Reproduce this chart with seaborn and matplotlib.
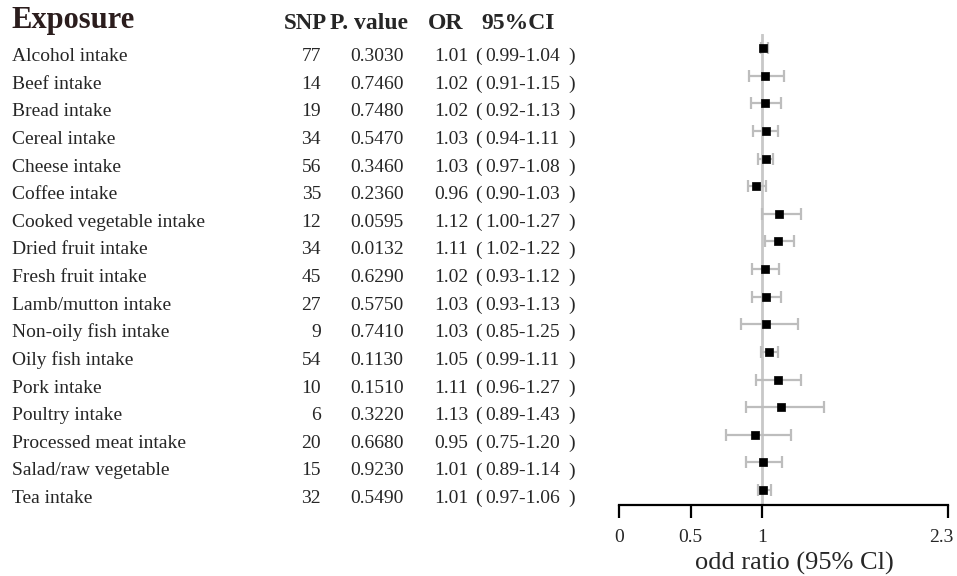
import numpy as np
import pandas as pd
import seaborn as sns
from matplotlib import pyplot as plt
from matplotlib import transforms

exposures = ['Alcohol intake', 'Beef intake', 'Bread intake', 'Cereal intake', 'Cheese intake',
	'Coffee intake', 'Cooked vegetable intake', 'Dried fruit intake', 'Fresh fruit intake',
	'Lamb/mutton intake', 'Non-oily fish intake', 'Oily fish intake', 'Pork intake',
	'Poultry intake', 'Processed meat intake', 'Salad/raw vegetable', 'Tea intake']
snp = [77, 14, 19, 34, 56, 35, 12, 34, 45, 27, 9, 54, 10, 6, 20, 15, 32]
pval = ['0.3030', '0.7460', '0.7480', '0.5470', '0.3460', '0.2360', '0.0595', '0.0132', '0.6290',
	'0.5750', '0.7410', '0.1130', '0.1510', '0.3220', '0.6680', '0.9230', '0.5490']
odds = [1.01, 1.02, 1.02, 1.03, 1.03, 0.96, 1.12, 1.11, 1.02, 1.03, 1.03, 1.05, 1.11, 1.13, 0.95, 1.01, 1.01]
ci_low = [0.99, 0.91, 0.92, 0.94, 0.97, 0.90, 1.00, 1.02, 0.93, 0.93, 0.85, 0.99, 0.96, 0.89, 0.75, 0.89, 0.97]
ci_high = [1.04, 1.15, 1.13, 1.11, 1.08, 1.03, 1.27, 1.22, 1.12, 1.13, 1.25, 1.11, 1.27, 1.43, 1.20, 1.14, 1.06]
xticks = [0, 0.5, 1, 2.3]
xticklabels = ['0', '0.5', '1', '2.3']

df = pd.DataFrame({'exposure': exposures, 'snp': snp, 'p': pval, 'OR': odds, 'lo': ci_low, 'hi': ci_high})
df['row'] = np.arange(len(df))

sns.set_style('white')
plt.rcParams['font.family'] = ['Liberation Serif', 'Noto Sans CJK SC']

W, H = 957, 576
fig = plt.figure(figsize=(W/100, H/100), dpi=100)
ax = fig.add_axes([619/W, 1-505/H, (948-619)/W, (505-34)/H])

# forest part
ax.axvline(1, color='#c8c8c8', lw=2, zorder=1)
ax.errorbar(df['OR'], df['row'], xerr=[df['OR']-df['lo'], df['hi']-df['OR']], fmt='none',
	ecolor='#bdbdbd', elinewidth=1.6, capsize=4.5, capthick=1.6, zorder=2)
sns.scatterplot(data=df, x='OR', y='row', marker='s', color='black', s=40, edgecolor='black', ax=ax, zorder=3)

ax.set_xlim(0, 2.3)
ax.set_ylim(len(df)-1+0.54, -0.51)
ax.set_xticks(xticks)
ax.set_xticklabels(xticklabels)
ax.set_yticks([])
ax.set_ylabel('')
ax.set_xlabel('')
for s in ['top', 'right', 'left']:
	ax.spines[s].set_visible(False)
ax.spines['bottom'].set_linewidth(1.6)
ax.spines['bottom'].set_color('black')
ax.tick_params(axis='x', direction='out', length=9, width=1.6, color='black', bottom=True,
	labelsize=14, pad=8)
# last label sits against the right edge, nudge it left a bit
last = ax.get_xticklabels()[-1]
last.set_transform(last.get_transform() + transforms.ScaledTranslation(-7/100, 0, fig.dpi_scale_trans))
fig.text(794/W, 1-570/H, 'odd ratio (95% Cl)', ha='center', va='baseline', fontsize=19)

# table part
trans = transforms.blended_transform_factory(fig.transFigure, ax.transData)
fs = 14
off = 0.47
for _, r in df.iterrows():
	y = r['row'] + off
	ax.text(12/W, y, r['exposure'], transform=trans, ha='left', va='baseline', fontsize=fs)
	ax.text(321/W, y, str(r['snp']), transform=trans, ha='right', va='baseline', fontsize=fs)
	ax.text(350/W, y, r['p'], transform=trans, ha='left', va='baseline', fontsize=fs)
	ax.text(434/W, y, '{:.2f}'.format(r['OR']), transform=trans, ha='left', va='baseline', fontsize=fs)
	ax.text(475/W, y, '(', transform=trans, ha='left', va='baseline', fontsize=fs)
	ax.text(485/W, y, '{:.2f}-{:.2f}'.format(r['lo'], r['hi']), transform=trans, ha='left', va='baseline', fontsize=fs)
	ax.text(568/W, y, ')', transform=trans, ha='left', va='baseline', fontsize=fs)

fig.text(11/W, 1-28/H, 'Exposure', ha='left', va='baseline', fontsize=22, fontweight='bold', color='#2b1d1d')
fig.text(284/W, 1-29/H, 'SNP', ha='left', va='baseline', fontsize=16.5, fontweight='bold')
fig.text(330/W, 1-29/H, 'P. value', ha='left', va='baseline', fontsize=17, fontweight='bold')
fig.text(428/W, 1-29/H, 'OR', ha='left', va='baseline', fontsize=17, fontweight='bold')
fig.text(481/W, 1-29/H, '95%CI', ha='left', va='baseline', fontsize=17, fontweight='bold')

plt.savefig('out.png', dpi=100)
